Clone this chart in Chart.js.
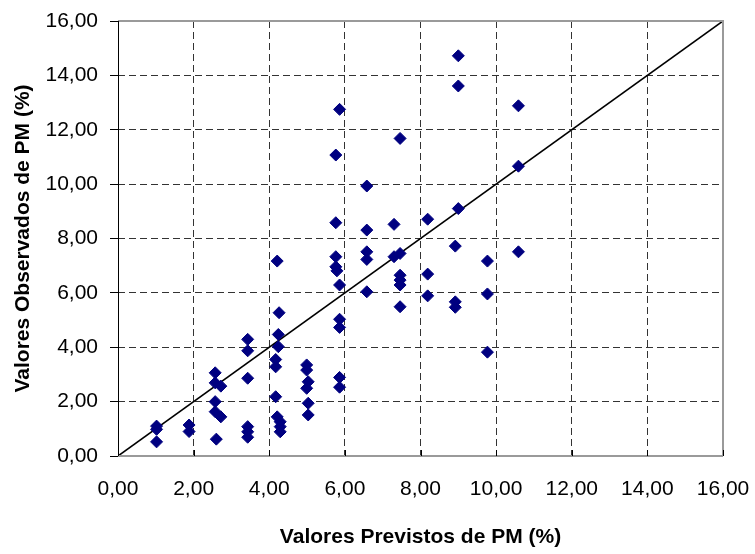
<!DOCTYPE html>
<html>
<head>
<meta charset="utf-8">
<script src="https://cdn.jsdelivr.net/npm/chart.js@4/dist/chart.umd.min.js"></script>
<style>
html,body{margin:0;padding:0;background:#fff;}
#wrap{width:755px;height:554px;}
</style>
</head>
<body>
<div id="wrap"><canvas id="c" width="755" height="554"></canvas></div>
<script>
// Valores previstos (x) e observados (y) de PM (%)
const previstos = [
  1.02, 1.02, 1.02,
  1.88, 1.88,
  2.57, 2.57, 2.72, 2.57, 2.57, 2.72, 2.60,
  3.43, 3.43, 3.43, 3.43, 3.43, 3.43,
  4.21, 4.26, 4.24, 4.24, 4.17, 4.17, 4.17, 4.21, 4.29, 4.29, 4.29,
  4.99, 4.99, 5.03, 4.99, 5.03, 5.03,
  5.86, 5.76, 5.76, 5.76, 5.76, 5.79, 5.86, 5.86, 5.86, 5.86, 5.86,
  6.58, 6.58, 6.58, 6.58, 6.58,
  7.46, 7.30, 7.46, 7.30, 7.46, 7.46, 7.46, 7.46,
  8.19, 8.19, 8.19,
  9.00, 9.00, 9.00, 8.92, 8.92, 8.92,
  9.77, 9.77, 9.77,
  10.59, 10.59, 10.59
];
const observados = [
  1.10, 0.98, 0.52,
  1.14, 0.90,
  3.06, 2.69, 2.57, 2.00, 1.63, 1.44, 0.62,
  4.29, 3.87, 2.86, 1.08, 0.89, 0.69,
  7.17, 5.27, 4.47, 4.02, 3.55, 3.28, 2.18, 1.44, 1.26, 1.08, 0.89,
  3.35, 3.16, 2.73, 2.49, 1.94, 1.51,
  12.75, 11.07, 8.58, 7.33, 6.96, 6.81, 6.29, 5.03, 4.73, 2.89, 2.53,
  9.93, 8.31, 7.51, 7.23, 6.04,
  11.68, 8.52, 7.45, 7.33, 6.65, 6.47, 6.29, 5.49,
  8.71, 6.69, 5.89,
  14.72, 13.61, 9.10, 7.72, 5.67, 5.47,
  7.17, 5.96, 3.82,
  12.88, 10.66, 7.51
];
const linhaX = [0, 16];
const linhaY = [0, 16];
const tickValues = [0, 2, 4, 6, 8, 10, 12, 14, 16];
const tickLabels = ["0,00","2,00","4,00","6,00","8,00","10,00","12,00","14,00","16,00"];

const pontos = previstos.map((x, i) => ({x: x, y: observados[i]}));
const linha = linhaX.map((x, i) => ({x: x, y: linhaY[i]}));

const fmt = v => { const i = tickValues.indexOf(v); return i >= 0 ? tickLabels[i] : ''; };
const gridColor = ctx => (ctx.tick && (ctx.tick.value === 0 || ctx.tick.value === 16)) ? 'rgba(0,0,0,0)' : '#333333';

const framePlugin = {
  id: 'frame',
  afterDatasetsDraw(chart) {
    const {ctx, chartArea: a, scales: {x}} = chart;
    ctx.save();
    ctx.strokeStyle = '#9a9a9a';
    ctx.lineWidth = 2;
    ctx.beginPath();
    ctx.moveTo(a.left, a.top); ctx.lineTo(a.right, a.top); ctx.lineTo(a.right, a.bottom);
    ctx.stroke();
    ctx.beginPath();
    ctx.moveTo(a.left, a.bottom); ctx.lineTo(a.right, a.bottom);
    ctx.stroke();
    ctx.strokeStyle = '#000';
    ctx.lineWidth = 1;
    tickValues.forEach(v => {
      if (v === 0) return;
      const px = Math.round(x.getPixelForValue(v)) + 0.5;
      ctx.beginPath(); ctx.moveTo(px, a.bottom - 6); ctx.lineTo(px, a.bottom); ctx.stroke();
    });
    ctx.beginPath();
    ctx.moveTo(a.left + 0.5, a.top); ctx.lineTo(a.left + 0.5, a.bottom);
    ctx.stroke();
    ctx.restore();
  }
};

new Chart(document.getElementById('c'), {
  type: 'scatter',
  data: {
    datasets: [
      {
        label: 'Observados',
        data: pontos,
        pointStyle: 'rectRot',
        pointRadius: 6,
        pointHoverRadius: 6,
        backgroundColor: '#000080',
        borderColor: '#000080',
        borderWidth: 1,
        order: 1
      },
      {
        label: '1:1',
        data: linha,
        showLine: true,
        borderColor: '#000',
        borderWidth: 1.6,
        pointRadius: 0,
        fill: false,
        order: 2
      }
    ]
  },
  plugins: [framePlugin],
  options: {
    responsive: false,
    animation: false,
    layout: {padding: {top: 21, right: 32, left: 0, bottom: 0}},
    plugins: {legend: {display: false}, tooltip: {enabled: false}},
    scales: {
      x: {
        type: 'linear', min: 0, max: 16,
        afterBuildTicks: s => { s.ticks = tickValues.map(v => ({value: v})); },
        afterFit: s => { s.height = 98; s.paddingLeft = 0; s.paddingRight = 0; },
        grid: {color: gridColor, drawTicks: false, lineWidth: 1},
        border: {display: false, dash: [7, 4]},
        ticks: {callback: fmt, color: '#000', padding: 21, maxRotation: 0,
                font: {family: 'Liberation Sans', size: 21}},
        title: {display: true, text: 'Valores Previstos de PM (%)', color: '#000',
                font: {family: 'Liberation Sans', size: 21, weight: 'bold'},
                padding: {top: 0, bottom: 4}}
      },
      y: {
        type: 'linear', min: 0, max: 16,
        afterBuildTicks: s => { s.ticks = tickValues.map(v => ({value: v})); },
        afterFit: s => { s.width = 118; s.paddingTop = 0; s.paddingBottom = 0; },
        grid: {color: gridColor, drawTicks: true, tickLength: 8,
               tickColor: '#000', tickBorderDash: [], tickWidth: 1, lineWidth: 1},
        border: {display: false, dash: [7, 4]},
        ticks: {callback: fmt, color: '#000', padding: 12,
                font: {family: 'Liberation Sans', size: 21}},
        title: {display: true, text: 'Valores Observados de PM (%)', color: '#000',
                font: {family: 'Liberation Sans', size: 21, weight: 'bold'},
                padding: {top: 11, bottom: 0}}
      }
    }
  }
});
</script>
</body>
</html>
